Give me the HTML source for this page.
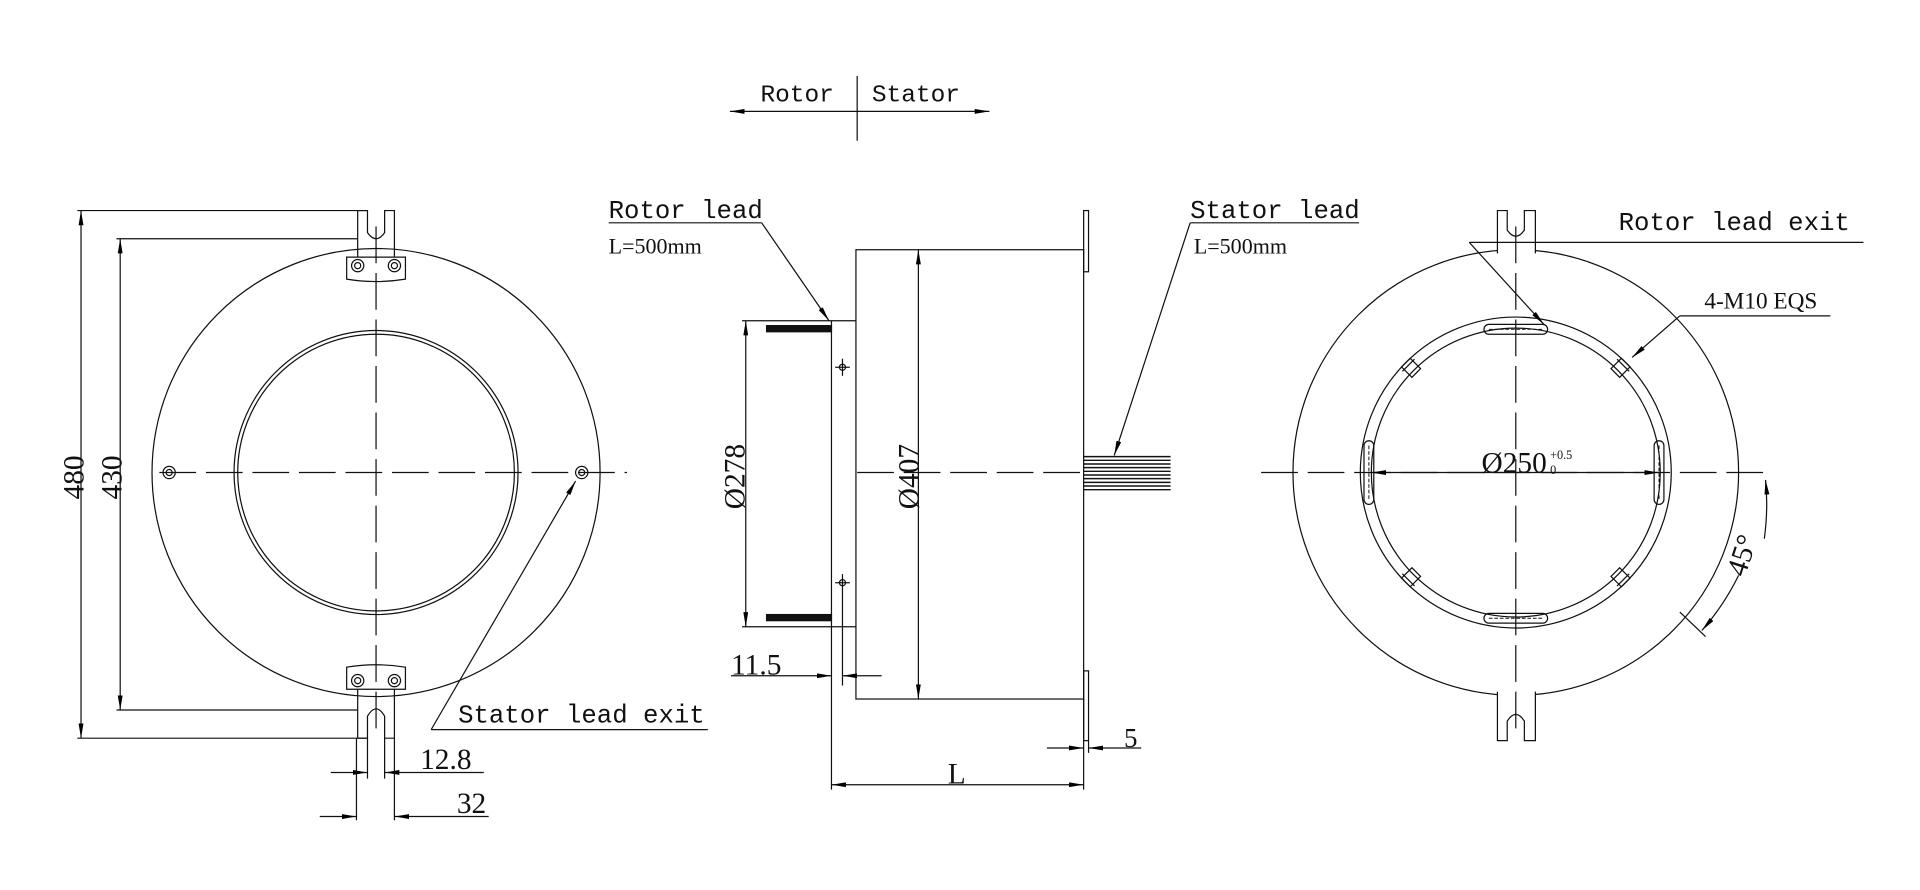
<!DOCTYPE html>
<html><head><meta charset="utf-8"><style>
html,body{margin:0;padding:0;background:#fff;}
svg{display:block}
text{font-family:"Liberation Mono",monospace;fill:#111}
.n{font-family:"Liberation Serif",serif}
</style></head><body>
<svg width="1920" height="890" viewBox="0 0 1568 727" xmlns="http://www.w3.org/2000/svg">
<defs>
<marker id="a" viewBox="0 0 12 4" refX="12" refY="2" markerWidth="12" markerHeight="4" orient="auto" markerUnits="userSpaceOnUse"><path d="M0,0L12,2L0,4z" fill="#000"/></marker>
</defs>
<g fill="none" stroke="#111" stroke-width="1">
<!-- Rotor | Stator -->
<line x1="700" y1="62" x2="700" y2="115"/>
<line x1="700" y1="91" x2="596" y2="91" marker-end="url(#a)"/>
<line x1="700" y1="91" x2="808" y2="91" marker-end="url(#a)"/>

<!-- LEFT VIEW -->
<circle cx="307" cy="386" r="183"/>
<circle cx="307" cy="386" r="116"/>
<circle cx="307" cy="386" r="113"/>
<path d="M283,228 L283,210 L331,210 L331,228 Q307,232 283,228z" fill="#fff"/>
<path d="M292,210 V172 H300 V190 Q307,200 314,190 V172 H322 V210"/>
<circle cx="292" cy="217" r="5"/><circle cx="292" cy="217" r="2.5"/>
<circle cx="322" cy="217" r="5"/><circle cx="322" cy="217" r="2.5"/>
<path d="M283,545 L283,563 L331,563 L331,545 Q307,541 283,545z" fill="#fff"/>
<path d="M292,563 V603 H300 V585 Q307,573 314,585 V603 H322 V563"/>
<circle cx="292" cy="556" r="5"/><circle cx="292" cy="556" r="2.5"/>
<circle cx="322" cy="556" r="5"/><circle cx="322" cy="556" r="2.5"/>
<circle cx="138" cy="386" r="5"/><circle cx="138" cy="386" r="2.5"/>
<circle cx="475" cy="386" r="5"/><circle cx="475" cy="386" r="2.5"/>
<line x1="130" y1="386" x2="512" y2="386" stroke-dasharray="30,8"/>
<line x1="307" y1="185" x2="307" y2="600" stroke-dasharray="30,8"/>
<!-- 480 / 430 -->
<line x1="63" y1="172" x2="300" y2="172"/>
<line x1="63" y1="603" x2="300" y2="603"/>
<line x1="66" y1="386" x2="66" y2="172" marker-end="url(#a)"/>
<line x1="66" y1="386" x2="66" y2="603" marker-end="url(#a)"/>
<line x1="95" y1="195" x2="292" y2="195"/>
<line x1="95" y1="580" x2="292" y2="580"/>
<line x1="98" y1="386" x2="98" y2="195" marker-end="url(#a)"/>
<line x1="98" y1="386" x2="98" y2="580" marker-end="url(#a)"/>
<!-- 12.8 / 32 -->
<line x1="300" y1="603" x2="300" y2="636"/>
<line x1="314" y1="603" x2="314" y2="636"/>
<line x1="270" y1="631" x2="300" y2="631" marker-end="url(#a)"/>
<line x1="395" y1="631" x2="314" y2="631" marker-end="url(#a)"/>
<line x1="291" y1="603" x2="291" y2="670"/>
<line x1="322" y1="603" x2="322" y2="670"/>
<line x1="261" y1="667" x2="291" y2="667" marker-end="url(#a)"/>
<line x1="399" y1="667" x2="322" y2="667" marker-end="url(#a)"/>
<!-- stator lead exit leader -->
<line x1="352" y1="596" x2="470" y2="393" marker-end="url(#a)"/>
<line x1="352" y1="596" x2="578" y2="596"/>

<!-- MIDDLE VIEW -->
<rect x="699" y="204" width="186" height="367"/>
<rect x="885" y="172" width="4" height="50"/>
<rect x="885" y="548" width="4" height="57"/>
<line x1="679" y1="262" x2="679" y2="645"/>
<line x1="606" y1="262" x2="699" y2="262"/>
<line x1="606" y1="512" x2="699" y2="512"/>
<line x1="609" y1="386" x2="609" y2="262" marker-end="url(#a)"/>
<line x1="609" y1="386" x2="609" y2="512" marker-end="url(#a)"/>
<rect x="626" y="266" width="53" height="5" fill="#111"/>
<rect x="626" y="502" width="53" height="5" fill="#111"/>
<circle cx="688" cy="300" r="2.5"/><line x1="682" y1="300" x2="694" y2="300"/><line x1="688" y1="293" x2="688" y2="307"/>
<circle cx="688" cy="476" r="2.5"/><line x1="682" y1="476" x2="694" y2="476"/><line x1="688" y1="469" x2="688" y2="560"/>
<line x1="750" y1="386" x2="750" y2="204" marker-end="url(#a)"/>
<line x1="750" y1="386" x2="750" y2="571" marker-end="url(#a)"/>
<line x1="700" y1="386" x2="885" y2="386" stroke-dasharray="30,8"/>
<g stroke-width="1.2">
<line x1="885" y1="373" x2="956" y2="373"/><line x1="885" y1="376" x2="956" y2="376"/><line x1="885" y1="379" x2="956" y2="379"/><line x1="885" y1="382" x2="956" y2="382"/><line x1="885" y1="385" x2="956" y2="385"/><line x1="885" y1="388" x2="956" y2="388"/><line x1="885" y1="391" x2="956" y2="391"/><line x1="885" y1="394" x2="956" y2="394"/><line x1="885" y1="397" x2="956" y2="397"/><line x1="885" y1="400" x2="956" y2="400"/>
</g>
<!-- 11.5 -->
<line x1="597" y1="552" x2="679" y2="552" marker-end="url(#a)"/>
<line x1="720" y1="552" x2="688" y2="552" marker-end="url(#a)"/>
<!-- 5 -->
<line x1="885" y1="571" x2="885" y2="645"/>
<line x1="889" y1="605" x2="889" y2="615"/>
<line x1="855" y1="611" x2="885" y2="611" marker-end="url(#a)"/>
<line x1="932" y1="611" x2="889" y2="611" marker-end="url(#a)"/>
<!-- L -->
<line x1="780" y1="641" x2="679" y2="641" marker-end="url(#a)"/>
<line x1="780" y1="641" x2="885" y2="641" marker-end="url(#a)"/>
<!-- leaders -->
<line x1="497" y1="182" x2="622" y2="182"/>
<line x1="622" y1="182" x2="677" y2="262" marker-end="url(#a)"/>
<line x1="972" y1="182" x2="1110" y2="182"/>
<line x1="972" y1="182" x2="910" y2="372" marker-end="url(#a)"/>

<!-- RIGHT VIEW -->
<circle cx="1238" cy="386" r="182"/>
<circle cx="1238" cy="386" r="127"/>
<circle cx="1238" cy="386" r="118"/>
<path d="M1223,207 V172 H1231 V188 Q1238,198 1245,188 V172 H1254 V207" fill="#fff"/>
<path d="M1223,565 V605 H1231 V589 Q1238,578 1245,589 V605 H1254 V565" fill="#fff"/>
<line x1="1030" y1="386" x2="1445" y2="386" stroke-dasharray="30,8"/>
<line x1="1238" y1="185" x2="1238" y2="600" stroke-dasharray="30,8"/>
<line x1="1238" y1="386" x2="1120" y2="386" marker-end="url(#a)"/>
<line x1="1238" y1="386" x2="1355" y2="386" marker-end="url(#a)"/>
<rect x="1212" y="265" width="52" height="8" rx="4"/>
<rect x="1212" y="501" width="52" height="8" rx="4"/>
<rect x="1114" y="360" width="8" height="52" rx="4"/>
<rect x="1351" y="360" width="8" height="52" rx="4"/>
<g stroke-width="0.8">
<path d="M1216,269h44M1118,364v44M1355,364v44M1216,505h44" stroke-dasharray="3,1.5"/>
</g>
<g transform="rotate(-45 1238 386)"><rect x="1233" y="259" width="10" height="12"/><line x1="1231" y1="262" x2="1245" y2="262"/></g>
<g transform="rotate(45 1238 386)"><rect x="1233" y="259" width="10" height="12"/><line x1="1231" y1="262" x2="1245" y2="262"/></g>
<g transform="rotate(135 1238 386)"><rect x="1233" y="259" width="10" height="12"/><line x1="1231" y1="262" x2="1245" y2="262"/></g>
<g transform="rotate(-135 1238 386)"><rect x="1233" y="259" width="10" height="12"/><line x1="1231" y1="262" x2="1245" y2="262"/></g>
<line x1="1200" y1="198" x2="1522" y2="198"/>
<line x1="1200" y1="198" x2="1261" y2="265" marker-end="url(#a)"/>
<line x1="1372" y1="258" x2="1495" y2="258"/>
<line x1="1372" y1="258" x2="1333" y2="292" marker-end="url(#a)"/>
<!-- 45 deg -->
<line x1="1372" y1="500" x2="1393" y2="520"/>
<path d="M1441,440 A205,205 0 0 0 1442,392" marker-end="url(#a)"/>
<path d="M1420,470 A205,205 0 0 1 1390,515" marker-end="url(#a)"/>
</g>

<!-- TEXT -->
<text x="621" y="83" font-size="20">Rotor</text>
<text x="712" y="83" font-size="20">Stator</text>
<text x="497" y="178" font-size="21">Rotor lead</text>
<text x="497" y="207" font-size="18" class="n">L=500mm</text>
<text x="972" y="178" font-size="21">Stator lead</text>
<text x="975" y="207" font-size="18" class="n">L=500mm</text>
<text x="1322" y="188" font-size="21">Rotor lead exit</text>
<text x="1392" y="252" font-size="19" class="n">4-M10 EQS</text>
<text x="374" y="590" font-size="21">Stator lead exit</text>
<text class="n" font-size="24" transform="translate(68,408) rotate(-90)">480</text>
<text class="n" font-size="24" transform="translate(99,408) rotate(-90)">430</text>
<text class="n" font-size="24" transform="translate(608,416) rotate(-90)">Ø278</text>
<text class="n" font-size="24" transform="translate(750,416) rotate(-90)">Ø407</text>
<text class="n" x="343" y="628" font-size="24">12.8</text>
<text class="n" x="373" y="664" font-size="24">32</text>
<text class="n" x="597" y="551" font-size="24">11.5</text>
<text class="n" x="918" y="610" font-size="22">5</text>
<text class="n" x="774" y="640" font-size="24">L</text>
<text class="n" x="1210" y="386" font-size="24">Ø250</text>
<text class="n" x="1266" y="375" font-size="10">+0.5</text>
<text class="n" x="1266" y="387" font-size="10">0</text>
<text class="n" font-size="24" transform="translate(1425,472) rotate(-72)">45°</text>
</svg>
</body></html>
